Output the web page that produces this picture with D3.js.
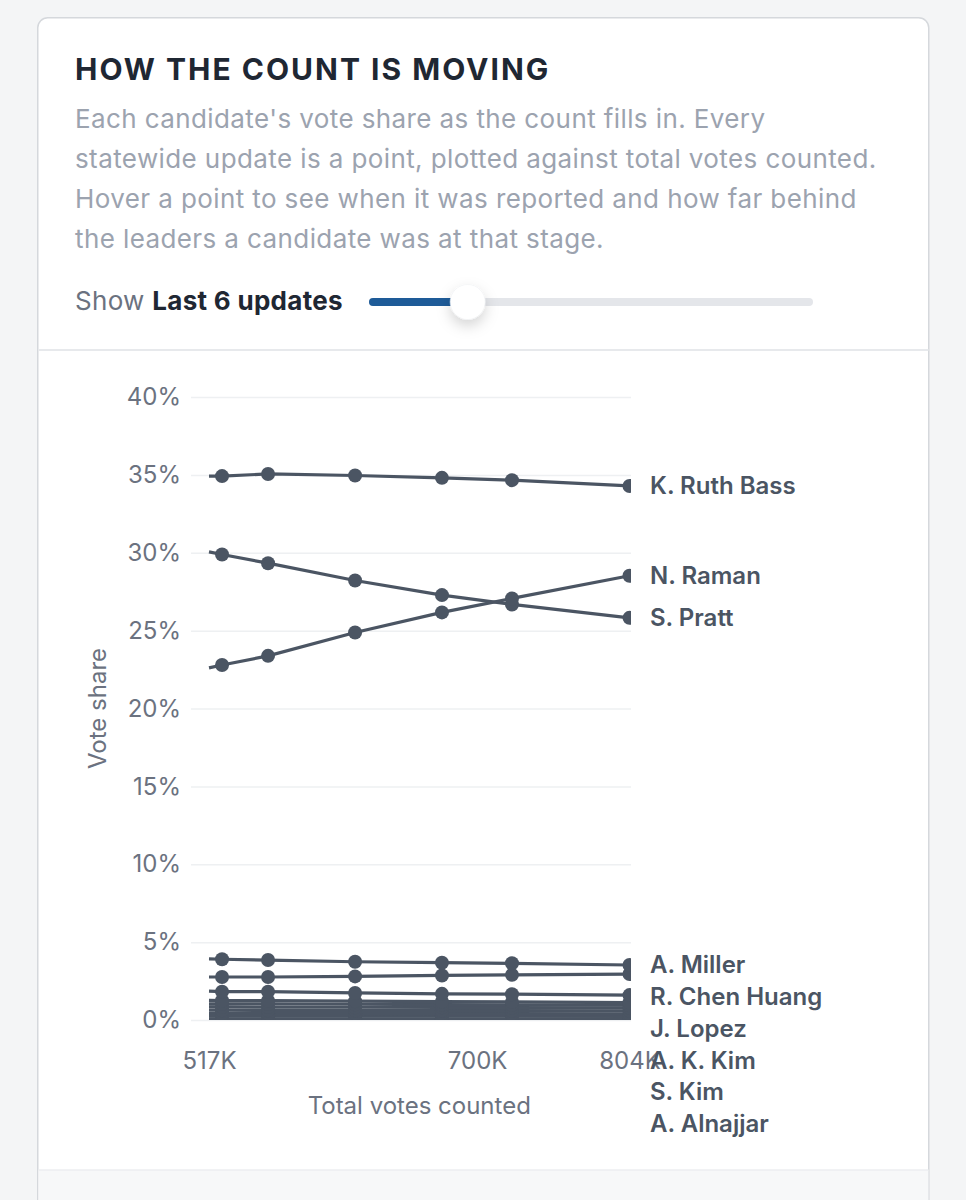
<!DOCTYPE html>
<html>
<head>
<meta charset="utf-8">
<script src="https://cdn.jsdelivr.net/npm/d3@7"></script>
<style>
  html, body { margin: 0; padding: 0; background: #f4f5f6; overflow: hidden; }
  svg text { font-family: Inter, "Noto Sans", sans-serif; }
</style>
</head>
<body>
<div id="plot"></div>
<script>
// Total votes counted at each statewide update (first one is the update just before the window)
var totals = [517000, 525900, 557300, 616700, 676000, 723800, 804000];

// Vote share (%) per candidate at each update
var bass     = [34.92, 34.92, 35.06, 34.96, 34.81, 34.66, 34.29];
var raman    = [22.61, 22.79, 23.38, 24.88, 26.17, 27.07, 28.52];
var pratt    = [30.06, 29.89, 29.33, 28.22, 27.28, 26.68, 25.82];
var miller   = [3.93, 3.90, 3.85, 3.74, 3.68, 3.64, 3.53];
var chen     = [2.76, 2.76, 2.76, 2.80, 2.86, 2.90, 2.95];
var lopez    = [1.85, 1.82, 1.82, 1.74, 1.68, 1.66, 1.60];
var akkim    = [1.26, 1.25, 1.24, 1.21, 1.18, 1.16, 1.12];
var skim     = [1.04, 1.04, 1.03, 1.01, 0.99, 0.98, 0.95];
var alnajjar = [0.84, 0.84, 0.83, 0.82, 0.81, 0.80, 0.78];
var ortiz    = [0.63, 0.63, 0.62, 0.62, 0.61, 0.60, 0.59];
var feld     = [0.43, 0.43, 0.42, 0.42, 0.41, 0.41, 0.40];
var hale     = [0.25, 0.25, 0.25, 0.24, 0.24, 0.24, 0.23];
var writeins = [0.08, 0.08, 0.08, 0.08, 0.07, 0.07, 0.07];

var names  = ["K. Ruth Bass", "N. Raman", "S. Pratt", "A. Miller", "R. Chen Huang", "J. Lopez",
              "A. K. Kim", "S. Kim", "A. Alnajjar", "D. Ortiz", "M. Feld", "T. Hale", "Write-ins"];
var shares = [bass, raman, pratt, miller, chen, lopez, akkim, skim, alnajjar, ortiz, feld, hale, writeins];

var yTicks = [0, 5, 10, 15, 20, 25, 30, 35, 40];
var xTicks = [517000, 700000, 804000];

var description = [
  "Each candidate's vote share as the count fills in. Every",
  "statewide update is a point, plotted against total votes counted.",
  "Hover a point to see when it was reported and how far behind",
  "the leaders a candidate was at that stage."
];
var shownUpdates = 6, sliderMin = 2, sliderMax = 20;

var series = names.map(function(n, i){
  return { name: n, values: shares[i].map(function(v, j){ return { total: totals[j], share: v, idx: j }; }) };
});

var W = 966, H = 1200;
var ink = "#4b5563", muted = "#6b7280";

var svg = d3.select("#plot").append("svg")
  .attr("width", W).attr("height", H);

var defs = svg.append("defs");
var shadow = defs.append("filter").attr("id", "thumbShadow")
  .attr("x", "-60%").attr("y", "-60%").attr("width", "220%").attr("height", "240%");
shadow.append("feDropShadow").attr("dx", 0).attr("dy", 6).attr("stdDeviation", 7)
  .attr("flood-color", "#000").attr("flood-opacity", 0.17);

// Card
svg.append("rect").attr("x", 37.75).attr("y", 17.75).attr("width", 891).attr("height", 1300)
  .attr("rx", 10).attr("fill", "#fff").attr("stroke", "#d5d8dc").attr("stroke-width", 1.5);
svg.append("line").attr("x1", 38.5).attr("x2", 928.5).attr("y1", 350).attr("y2", 350)
  .attr("stroke", "#e7e9ec").attr("stroke-width", 2);
svg.append("rect").attr("x", 38.5).attr("y", 1170).attr("width", 890).attr("height", 40)
  .attr("fill", "#f7f8f9");
svg.append("line").attr("x1", 38.5).attr("x2", 928.5).attr("y1", 1170).attr("y2", 1170)
  .attr("stroke", "#eceef0").attr("stroke-width", 1.5);

// Header
svg.append("text").attr("x", 75).attr("y", 80)
  .style("font-size", "30px").style("font-weight", 700).style("letter-spacing", "2px")
  .attr("fill", "#1f2733").text("HOW THE COUNT IS MOVING");

svg.append("g").selectAll("text").data(description).enter().append("text")
  .attr("x", 75).attr("y", function(d, i){ return 127.5 + i * 40.3; })
  .style("font-size", "26px").style("letter-spacing", "0.4px")
  .attr("fill", "#9ca3af").text(function(d){ return d; });

var show = svg.append("text").attr("x", 75).attr("y", 310)
  .style("font-size", "26px").style("letter-spacing", "0.3px");
show.append("tspan").attr("fill", muted).text("Show ");
show.append("tspan").attr("fill", "#1f2733").style("font-weight", 700).text("Last " + shownUpdates + " updates");

// Slider
var slider = d3.scaleLinear().domain([sliderMin, sliderMax]).range([369, 813]);
svg.append("rect").attr("x", 369).attr("y", 298).attr("width", 444).attr("height", 8)
  .attr("rx", 4).attr("fill", "#e4e6ea");
svg.append("rect").attr("x", 369).attr("y", 298).attr("width", slider(shownUpdates) - 369).attr("height", 8)
  .attr("rx", 4).attr("fill", "#1e5b98");
svg.append("circle").attr("cx", slider(shownUpdates)).attr("cy", 302).attr("r", 17.5)
  .attr("fill", "#fff").attr("stroke", "#eceef0").attr("stroke-width", 0.5)
  .attr("filter", "url(#thumbShadow)");

// Chart area
var plot = {left: 191, right: 631, top: 397, bottom: 1020};
var chartBottom = 1140;
var x = d3.scaleLinear().domain([totals[0], totals[totals.length - 1]]).range([plot.left + 18, plot.right - 1.5]);
var y = d3.scaleLinear().domain([0, 40]).range([plot.bottom, plot.top]);

defs.append("clipPath").attr("id", "plotClip").append("rect")
  .attr("x", plot.left).attr("y", plot.top - 30)
  .attr("width", plot.right - plot.left).attr("height", plot.bottom - plot.top + 30);

var chart = svg.append("g");

// Gridlines + Y axis
var yAxis = chart.append("g")
  .attr("transform", "translate(" + plot.left + ",0)")
  .call(d3.axisLeft(y).tickValues(yTicks).tickSize(-(plot.right - plot.left)).tickPadding(10)
    .tickFormat(function(d){ return d + "%"; }));
yAxis.select(".domain").remove();
yAxis.selectAll(".tick line").attr("stroke", "#eef0f2").attr("stroke-width", 1.5);
yAxis.selectAll(".tick text").attr("fill", muted).style("font-size", "24px")
  .style("font-family", "Inter, 'Noto Sans', sans-serif");

// X axis
var xAxis = chart.append("g")
  .attr("transform", "translate(0," + plot.bottom + ")")
  .call(d3.axisBottom(x).tickValues(xTicks).tickSize(0).tickPadding(32)
    .tickFormat(function(d){ return Math.round(d / 1000) + "K"; }));
xAxis.select(".domain").remove();
xAxis.selectAll(".tick text").attr("fill", muted).style("font-size", "24px")
  .style("font-family", "Inter, 'Noto Sans', sans-serif");

chart.append("text")
  .attr("x", (x.range()[0] + x.range()[1]) / 2).attr("y", 1114)
  .style("text-anchor", "middle").style("font-size", "24px").attr("fill", muted)
  .text("Total votes counted");
chart.append("text")
  .attr("transform", "translate(106," + ((plot.top + plot.bottom) / 2) + ") rotate(-90)")
  .style("text-anchor", "middle").style("font-size", "24px").attr("fill", muted)
  .text("Vote share");

// Lines and dots
var line = d3.line().x(function(d){ return x(d.total); }).y(function(d){ return y(d.share); });
var marks = chart.append("g").attr("clip-path", "url(#plotClip)");
var lineOrder = series.slice().reverse();
marks.selectAll(".line").data(lineOrder).enter().append("path")
  .attr("class", "line").attr("d", function(d){ return line(d.values); })
  .attr("fill", "none").attr("stroke", ink).attr("stroke-width", 3.2);
marks.selectAll(".dots").data(lineOrder).enter().append("g").attr("class", "dots")
  .selectAll("circle")
  .data(function(d){ return d.values.filter(function(v){ return v.idx >= totals.length - shownUpdates; }); })
  .enter().append("circle")
  .attr("cx", function(d){ return x(d.total); })
  .attr("cy", function(d){ return y(d.share); })
  .attr("r", 7).attr("fill", ink);

// End labels, nudged down so they never overlap; those past the chart's bottom are left out
var labelGap = 31.7, lastY = -Infinity;
var labels = series.map(function(s){ return { name: s.name, last: s.values[s.values.length - 1].share }; })
  .sort(function(a, b){ return b.last - a.last; });
labels.forEach(function(l){
  l.y = Math.max(y(l.last), lastY + labelGap);
  lastY = l.y;
});
chart.append("g").selectAll("text")
  .data(labels.filter(function(l){ return l.y + 12 < chartBottom; }))
  .enter().append("text")
  .attr("x", 650).attr("y", function(d){ return d.y; })
  .attr("dy", "0.35em")
  .style("font-size", "24px").style("font-weight", 600).attr("fill", ink)
  .text(function(d){ return d.name; });
</script>
</body>
</html>
